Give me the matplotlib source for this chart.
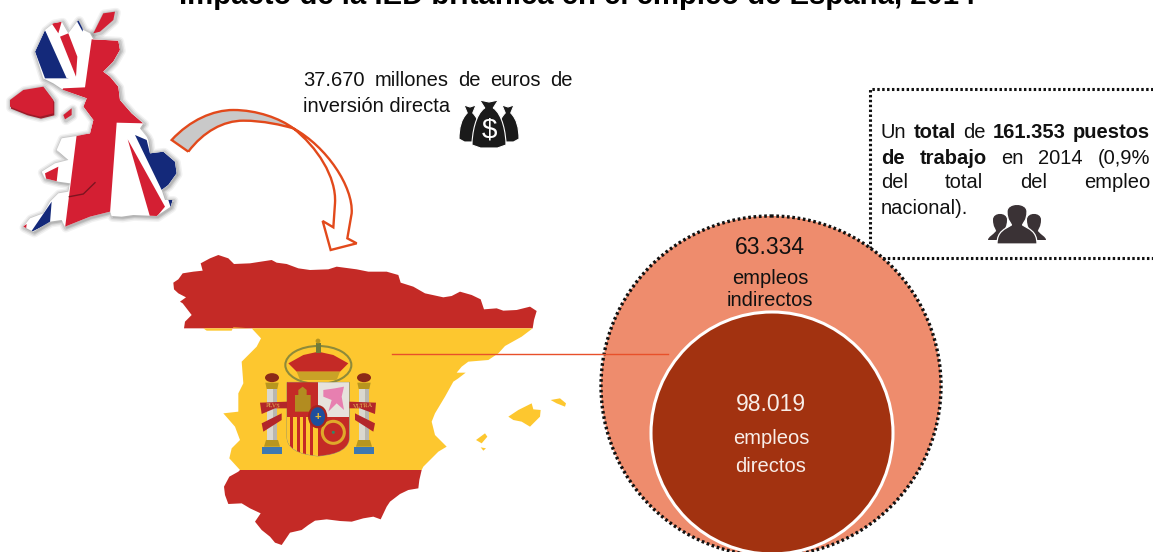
import numpy as np
import matplotlib
matplotlib.use("Agg")
import matplotlib.pyplot as plt
from matplotlib.patches import Polygon, Ellipse, Rectangle, PathPatch, Circle
from matplotlib.path import Path

plt.rcParams['font.family'] = ['Liberation Sans', 'DejaVu Sans']

TITLE = "Impacto de la IED británica en el empleo de España, 2014"
INVEST_LINES = [["37.670", "millones", "de", "euros", "de"]]
INVEST_LAST = "inversión directa"
BOX_LINES = [
    [("Un", 0), ("total", 1), ("de", 0), ("161.353", 1), ("puestos", 1)],
    [("de", 1), ("trabajo", 1), ("en", 0), ("2014", 0), ("(0,9%", 0)],
    [("del", 0), ("total", 0), ("del", 0), ("empleo", 0)],
]
BOX_LAST = "nacional)."
INDIRECT_VALUE = "63.334"
INDIRECT_LABEL = ["empleos", "indirectos"]
DIRECT_VALUE = "98.019"
DIRECT_LABEL = ["empleos", "directos"]

# outlines traced at 3x zoom
UK_MAIN = [(205,100),(235,60),(250,90),(270,100),(280,118),(355,122),(360,150),(340,185),(310,215),(330,230),
           (355,260),(360,300),(395,340),(430,370),(420,385),(440,410),(445,420),(450,460),(490,455),(525,485),
           (530,520),(505,555),(485,570),(495,600),(518,600),(512,620),(470,648),(400,645),(365,650),(335,648),
           (330,635),(270,650),(195,680),(185,660),(150,665),(100,695),(70,680),(90,655),(130,640),(150,605),
           (175,580),(205,575),(210,550),(175,545),(135,535),(125,515),(165,490),(205,480),(170,450),(185,415),
           (230,408),(270,400),(280,360),(250,320),(260,295),(190,270),(160,250),(130,235),(105,155),(135,90),
           (160,70),(185,65)]
UK_RED_NORTH = [(275,118),(355,122),(360,150),(340,185),(310,215),(330,230),(355,260),(360,300),(395,340),(430,370),
                (350,368),(330,640),(270,655),(195,685),(230,405),(270,400),(280,360),(250,320),(260,295),(185,270),
                (190,265),(255,262)]
UK_RED_DIAG = [(383,418),(495,620),(470,650),(450,650)]
UK_BLUE_EAST = [(405,405),(440,420),(450,460),(490,455),(525,485),(530,520),(505,555),(485,570)]
UK_BLUE_SCOT = [(105,155),(135,90),(160,130),(205,235),(135,235)]
UK_WHITE_SCOT = [(135,90),(148,88),(215,235),(200,235)]
UK_RED_SCOT = [(180,110),(205,100),(232,170),(228,230)]
UK_BLUE_SW = [(92,697),(155,605),(150,668)]
UK_BLUE_TIP = [(505,600),(518,600),(512,622)]
UK_RED_SWTIP = [(68,680),(80,672),(78,690)]
UK_BLUE_TOP = [(230,62),(250,60),(248,95)]
UK_RED_TOP = [(155,70),(185,65),(175,100)]
UK_RED_WALES = [(135,520),(175,500),(170,545),(140,545)]
UK_ORKNEY = [(280,100),(310,40),(345,35),(340,60),(300,95)]
UK_IRELAND = [(30,300),(70,270),(130,260),(160,300),(160,340),(120,350),(80,340),(30,320)]
UK_MAN = [(190,345),(215,325),(215,345),(195,358)]
UK_INLET = [(208,590),(250,582),(285,548)]

ES_NORTH = [(40,128),(55,118),(68,100),(100,95),(128,92),(122,70),(150,55),(175,45),(205,55),(222,72),(270,70),
            (335,60),(350,68),(380,72),(415,85),(450,90),(505,88),(530,80),(590,88),(625,95),(680,95),(715,105),
            (722,128),(760,140),(795,160),(850,172),(875,168),(900,155),(935,165),(962,178),(972,208),(1010,205),
            (1030,212),(1070,210),(1110,200),(1130,213),(1122,240),(1118,265),(72,265),(75,245),(95,225),(85,212),
            (68,190),(60,185),(78,172),(55,160),(42,148)]
ES_MIDDLE = [(130,265),(1118,265),(1085,290),(1035,318),(1015,340),(985,360),(925,365),(905,380),(890,398),(917,398),
             (895,415),(880,425),(855,470),(825,520),(815,545),(825,585),(860,620),(835,635),(810,660),(790,680),
             (785,690),(240,690),(208,655),(215,625),(240,600),(225,560),(190,520),(235,515),(235,460),(250,430),
             (245,365),(290,320),(303,295),(275,265),(220,262),(215,272),(140,272)]
ES_SOUTH = [(240,690),(785,690),(778,720),(775,745),(745,750),(720,762),(690,785),(680,800),(662,838),(640,830),
            (610,835),(575,845),(540,843),(500,838),(465,842),(445,855),(425,870),(390,878),(365,915),(345,908),
            (330,890),(305,870),(285,845),(302,820),(270,805),(245,790),(205,792),(195,765),(192,740),(208,710),(235,695)]
ES_MALLORCA = [(1045,530),(1075,510),(1115,490),(1120,508),(1142,510),(1140,530),(1110,560),(1085,545),(1060,540)]
ES_MENORCA = [(1172,480),(1200,475),(1218,490),(1215,500),(1190,490)]
ES_IBIZA = [(948,600),(975,580),(982,590),(965,610)]
ES_FORMENTERA = [(962,622),(978,625),(970,632)]

RED_ES = "#C42A26"
YELLOW_ES = "#FDC72F"
GOLD = "#B8961E"
ORANGE = "#E2491B"
UK_RED = "#D41F33"
UK_BLUE = "#14297A"

M, C, L = Path.MOVETO, Path.CURVE4, Path.LINETO


def uk(pts):
    return np.array(pts) / 3


def es(pts):
    return np.array(pts) / 3 + [160, 240]


fig = plt.figure(figsize=(11.53, 5.52), dpi=100)
ax = fig.add_axes([0, 0, 1, 1])
ax.set_xlim(0, 1153)
ax.set_ylim(552, 0)
ax.axis('off')


def poly(pts, color, z=2, **kw):
    p = Polygon(pts, closed=True, facecolor=color, edgecolor='none', zorder=z, **kw)
    ax.add_patch(p)
    return p


def justify(words, x0, x1, y, size=14.5):
    # place the words so that the line fills x0..x1
    r = fig.canvas.get_renderer()
    items = []
    for w, bold in words:
        t = ax.text(x0, y, w, fontsize=size, fontweight='bold' if bold else 'normal',
                    color='#111111', va='center_baseline', ha='left', zorder=8)
        items.append(t)
    widths = [t.get_window_extent(r).width for t in items]
    gap = (x1 - x0 - sum(widths)) / (len(items) - 1)
    x = x0
    for t, w in zip(items, widths):
        t.set_x(x)
        x += w + gap


# title, cut by the top edge as in the source
ax.text(577, 3.5, TITLE, fontsize=21.1, fontweight='bold', ha='center', va='baseline', color='black')

# --- UK map ---
# soft shadow made of a few wide translucent edges
for lw, a in [(7, 0.05), (5, 0.07), (3, 0.10)]:
    for pts in [UK_MAIN, UK_IRELAND, UK_ORKNEY, UK_MAN]:
        ax.add_patch(Polygon(uk(pts) + [1, 1], closed=True, facecolor='none', edgecolor='black',
                             linewidth=lw, alpha=a, zorder=1.4, joinstyle='round'))
poly(uk(UK_MAIN) + [1.5, 2], '#b5b5b5', z=1.5)
poly(uk(UK_IRELAND) + [1, 2], '#9c1a28', z=1.5)
poly(uk(UK_MAIN), 'white', z=2)
uk_clip = Polygon(uk(UK_MAIN), closed=True, transform=ax.transData)
for pts, col, z in [(UK_RED_NORTH, UK_RED, 2.2), (UK_RED_DIAG, UK_RED, 2.2), (UK_BLUE_EAST, UK_BLUE, 2.2),
                    (UK_BLUE_SCOT, UK_BLUE, 2.2), (UK_WHITE_SCOT, 'white', 2.3), (UK_RED_SCOT, UK_RED, 2.2),
                    (UK_BLUE_SW, UK_BLUE, 2.2), (UK_BLUE_TIP, UK_BLUE, 2.2), (UK_RED_SWTIP, UK_RED, 2.2),
                    (UK_BLUE_TOP, UK_BLUE, 2.2), (UK_RED_TOP, UK_RED, 2.2), (UK_RED_WALES, UK_RED, 2.2)]:
    p = poly(uk(pts), col, z=z)
    p.set_clip_path(uk_clip)
for pts in [UK_ORKNEY, UK_IRELAND, UK_MAN]:
    poly(uk(pts), UK_RED, z=2.2)
inlet = uk(UK_INLET)
ax.plot(inlet[:, 0], inlet[:, 1], color='#7d1420', linewidth=1, zorder=2.4)

# --- curved arrow ---
gray_verts = [(515,420),(570,360),(640,330),(700,330),(770,330),(840,355),(880,385),
              (845,375),(790,362),(730,362),(670,362),(610,395),(565,455),(515,420)]
gray_codes = [M, C,C,C, C,C,C, C,C,C, C,C,C, L]
ax.add_patch(PathPatch(Path(uk(gray_verts), gray_codes), facecolor='#C9C9C9', edgecolor='none', zorder=3))
outline_verts = [(565,455),(515,420),
                 (570,360),(640,330),(700,330),
                 (770,330),(840,355),(880,385),
                 (950,440),(1010,530),(1005,610),
                 (1000,682),(968,663),(992,750),(1070,730),(1042,715),(1055,640),
                 (1060,560),(980,440),(880,385),
                 (845,375),(790,362),(730,362),
                 (670,362),(610,395),(565,455)]
outline_codes = [M,L, C,C,C, C,C,C, C,C,C, L,L,L,L,L,L, C,C,C, C,C,C, C,C,C]
ax.add_patch(PathPatch(Path(uk(outline_verts), outline_codes), facecolor='none', edgecolor=ORANGE,
                       linewidth=1.7, zorder=4, joinstyle='miter'))

# --- Spain map ---
poly(es(ES_NORTH), RED_ES)
poly(es(ES_SOUTH), RED_ES)
poly(es(ES_MIDDLE), YELLOW_ES)
for isl in [ES_MALLORCA, ES_MENORCA, ES_IBIZA, ES_FORMENTERA]:
    poly(es(isl), YELLOW_ES)

# coat of arms
shield_verts = [(381,427),(568,427),(568,590),(568,640),(500,645),(475,648),(450,645),(381,640),(381,590),(381,427)]
shield_path = Path(es(shield_verts), [M,L,L,C,C,C,C,C,C,L])
shield_patch = PathPatch(shield_path, facecolor='white', edgecolor='#8c8c6a', linewidth=0.6, zorder=3)
ax.add_patch(shield_patch)
for xy, w, h, col in [((381,427),94,103,RED_ES), ((475,427),93,103,'#E6E2DC'), ((475,530),93,130,RED_ES),
                      ((381,530),94,130,YELLOW_ES)]:
    r = Rectangle(es([xy])[0], w/3, h/3, facecolor=col, edgecolor='none', zorder=3.1)
    ax.add_patch(r)
    r.set_clip_path(shield_patch)
for sx in [390, 410, 430, 450]:
    r = Rectangle(es([(sx,530)])[0], 9/3, 130/3, facecolor=RED_ES, edgecolor='none', zorder=3.2)
    ax.add_patch(r)
    r.set_clip_path(shield_patch)
poly(es([(405,515),(405,465),(415,465),(415,450),(428,440),(440,450),(440,465),(452,465),(452,515)]), '#B28C20', z=3.3)
poly(es([(490,450),(525,445),(552,440),(545,470),(552,510),(530,490),(505,515),(515,480),(490,470)]), '#E77FB0', z=3.3)
ax.add_patch(Circle(es([(520,577)])[0], 11, facecolor='none', edgecolor='#E0A92A', linewidth=2.2, zorder=3.3))
ax.add_patch(Circle(es([(520,577)])[0], 1.5, facecolor='#2C8A6A', edgecolor='none', zorder=3.4))
ax.add_patch(Ellipse(es([(473,530)])[0], 17, 21, facecolor='#1F4E9C', edgecolor='#A8231F', linewidth=1.6, zorder=3.5))
ax.text(*es([(473,530)])[0], "+", color='#F2C12E', fontsize=8, fontweight='bold', ha='center', va='center', zorder=3.6)

# crown
ax.add_patch(Ellipse(es([(475,375)])[0], 66, 38, facecolor='none', edgecolor='#8E8A3A', linewidth=1.5, zorder=3))
poly(es([(385,370),(430,345),(475,335),(520,345),(565,370),(540,395),(410,395)]), RED_ES, z=3.1)
poly(es([(410,395),(540,395),(530,420),(420,420)]), '#C9A227', z=3.2)
poly(es([(468,340),(468,310),(482,310),(482,340)]), '#6F7A3A', z=3.3)
ax.add_patch(Circle(es([(474,303)])[0], 2.4, facecolor=GOLD, edgecolor='none', zorder=3.3))

# pillars and ribbons
for px in [336, 612]:
    poly(es([(px-14,445),(px+14,445),(px+14,600),(px-14,600)]), '#DAD8CF', z=3)
    poly(es([(px+2,445),(px+14,445),(px+14,600),(px+2,600)]), '#B9B7AF', z=3)
    poly(es([(px-20,428),(px+20,428),(px+16,447),(px-16,447)]), GOLD, z=3.1)
    poly(es([(px-18,600),(px+18,600),(px+24,620),(px-24,620)]), GOLD, z=3.1)
    poly(es([(px-29,620),(px+29,620),(px+29,643),(px-29,643)]), '#3E78B0', z=3.1)
    ax.add_patch(Ellipse(es([(px,413)])[0], 14, 9, facecolor='#8C2A17', edgecolor='none', zorder=3.1))
poly(es([(300,488),(381,485),(381,505),(345,505),(305,522)]), '#B3262A', z=3.4)
poly(es([(568,485),(648,488),(645,522),(600,505),(568,505)]), '#B3262A', z=3.4)
poly(es([(305,550),(365,520),(365,540),(310,575)]), '#B3262A', z=3.4)
poly(es([(585,520),(645,550),(640,575),(585,540)]), '#B3262A', z=3.4)
ax.text(*es([(340,498)])[0], "PLVS", fontsize=4.5, color='#E8C65A', ha='center', va='center', zorder=3.5, rotation=-3, family=['Liberation Serif'])
ax.text(*es([(608,498)])[0], "VLTRA", fontsize=4.5, color='#E8C65A', ha='center', va='center', zorder=3.5, rotation=3, family=['Liberation Serif'])

# --- dotted box ---
ax.plot([1153, 870, 870, 1153], [89, 89, 258, 258], color='#111111', linewidth=2.2,
        linestyle=(0, (0.8, 0.8)), zorder=1)

# --- circles ---
ax.add_patch(Circle((771, 386), 170, facecolor='#EE8C6D', edgecolor='#111111', linewidth=2.4,
                    linestyle=(0, (0.8, 0.8)), zorder=5))
ax.add_patch(Circle((772, 433), 121, facecolor='#A23210', edgecolor='white', linewidth=2.2, zorder=6))
ax.plot([392, 668], [354, 354], color='#E8502A', linewidth=1, zorder=7)

ax.text(770, 245, INDIRECT_VALUE, fontsize=16.5, ha='center', va='center_baseline', color='#111111', zorder=8)
ax.text(770, 277, INDIRECT_LABEL[0], fontsize=14.5, ha='center', va='center_baseline', color='#111111', zorder=8)
ax.text(770, 298, INDIRECT_LABEL[1], fontsize=14.5, ha='center', va='center_baseline', color='#111111', zorder=8)
ax.text(771, 402, DIRECT_VALUE, fontsize=16.5, ha='center', va='center_baseline', color='#F8EDE8', zorder=8)
ax.text(771, 436, DIRECT_LABEL[0], fontsize=14.5, ha='center', va='center_baseline', color='#F8EDE8', zorder=8)
ax.text(771, 464, DIRECT_LABEL[1], fontsize=14.5, ha='center', va='center_baseline', color='#F8EDE8', zorder=8)

# --- invest text ---
justify([(w, 0) for w in INVEST_LINES[0]], 303, 573, 78)
ax.text(303, 104, INVEST_LAST, fontsize=14.5, color='#111111', va='center_baseline', zorder=8)

# --- box text ---
for i, line in enumerate(BOX_LINES):
    justify(line, 881, 1150, 131 + i * 25)
ax.text(881, 206, BOX_LAST, fontsize=14.5, color='#111111', va='center_baseline', zorder=8)


# --- money bags icon ---
def bag(cx, top, bottom, half, z=3.0):
    neck = top + 8
    verts = [(cx-half*0.55, top), (cx, top+2), (cx+half*0.55, top), (cx+half*0.25, neck),
             (cx+half*0.8, neck+6), (cx+half, bottom-14), (cx+half, bottom-3),
             (cx+half*0.5, bottom), (cx-half*0.5, bottom), (cx-half, bottom-3),
             (cx-half, bottom-14), (cx-half*0.8, neck+6), (cx-half*0.25, neck), (cx-half*0.55, top)]
    codes = [M, L, L, L, C, C, C, L, L, L, C, C, C, L]
    ax.add_patch(PathPatch(Path(verts, codes), facecolor='#1a1a1a', edgecolor='white', linewidth=0.8, zorder=z))


bag(470, 105, 142, 11)
bag(508, 105, 142, 11)
bag(489, 100, 148, 17, z=3.2)
ax.text(489, 131, "$", fontsize=20, color='white', ha='center', va='center', zorder=3.4)


# --- people icon ---
def person(cx, head_top, head_w, head_h, half, bottom, z=3.0, edge='none'):
    col = '#3A3235'
    hx = head_w / 2
    chin = head_top + head_h
    verts = [(cx-hx, head_top+head_h*0.45),
             (cx-hx, head_top), (cx+hx, head_top), (cx+hx, head_top+head_h*0.45),
             (cx+hx, chin-2), (cx+hx*0.6, chin), (cx+hx*0.55, chin+2),
             (cx+half*0.6, chin+6), (cx+half, chin+8), (cx+half, bottom),
             (cx-half, bottom),
             (cx-half, chin+8), (cx-half*0.6, chin+6), (cx-hx*0.55, chin+2),
             (cx-hx*0.6, chin), (cx-hx, chin-2), (cx-hx, head_top+head_h*0.45)]
    codes = [M, C, C, C, C, C, C, C, C, C, L, C, C, C, C, C, C]
    ax.add_patch(PathPatch(Path(verts, codes), facecolor=col, edgecolor=edge, linewidth=0.9, zorder=z))


person(1000, 212, 14, 17, 12, 240)
person(1034, 212, 14, 17, 12, 240)
person(1017, 202, 20, 21, 20, 244, z=3.2, edge='white')

fig.savefig("out.png", dpi=100)
